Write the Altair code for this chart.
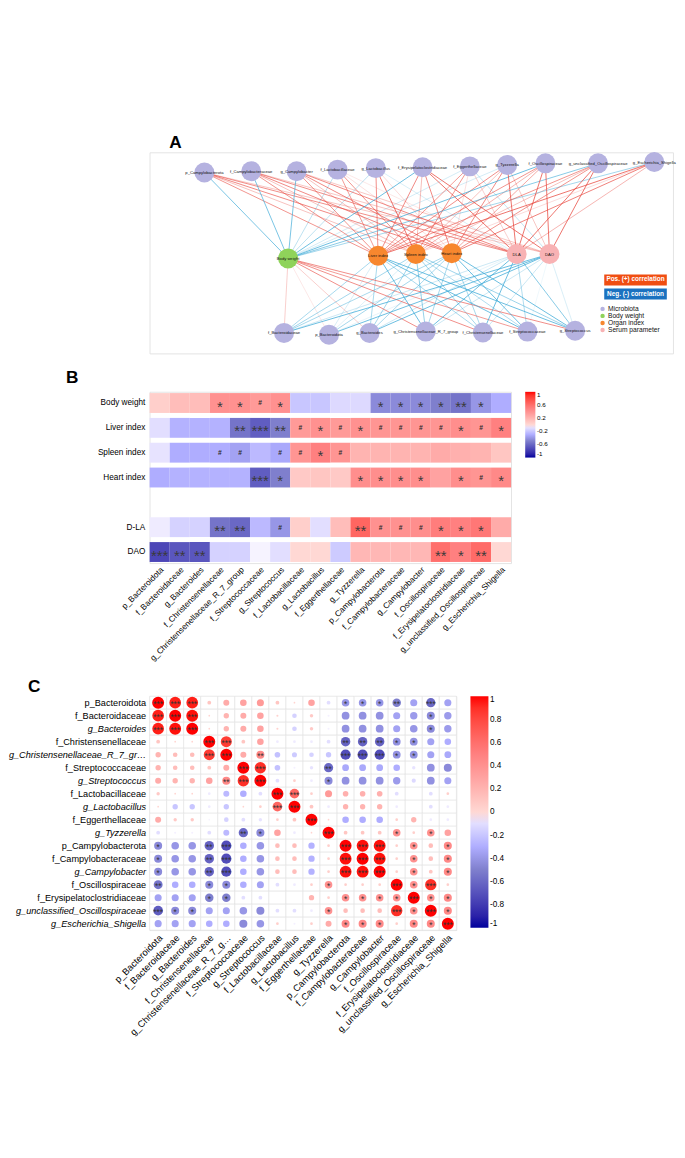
import altair as alt
import pandas as pd

# ---------------- shared data ----------------
taxa = ["p_Bacteroidota", "f_Bacteroidaceae", "g_Bacteroides", "f_Christensenellaceae",
        "g_Christensenellaceae_R_7_group", "f_Streptococcaceae", "g_Streptococcus",
        "f_Lactobacillaceae", "g_Lactobacillus", "f_Eggerthellaceae", "g_Tyzzerella",
        "p_Campylobacterota", "f_Campylobacteraceae", "g_Campylobacter", "f_Oscillospiraceae",
        "f_Erysipelatoclostridiaceae", "g_unclassified_Oscillospiraceae", "g_Escherichia_Shigella"]

params = ["Body weight", "Liver index", "Spleen index", "Heart index", "D-LA", "DAO"]
b_row_order = ["Body weight", "Liver index", "Spleen index", "Heart index", " ", "D-LA", "DAO"]

r_body   = [0.05, 0.15, 0.15, 0.40, 0.40, 0.35, 0.40, -0.20, -0.20, -0.12, -0.12, -0.45, -0.45, -0.45, -0.50, -0.55, -0.40, -0.30]
r_liver  = [-0.10, -0.28, -0.28, -0.28, -0.55, -0.65, -0.50, 0.35, 0.40, 0.35, 0.40, 0.38, 0.38, 0.38, 0.38, 0.42, 0.38, 0.50]
r_spleen = [-0.08, -0.30, -0.30, -0.30, -0.35, -0.25, -0.32, 0.38, 0.50, 0.38, 0.20, 0.20, 0.20, 0.20, 0.25, 0.22, 0.20, 0.10]
r_heart  = [-0.30, -0.28, -0.28, -0.28, -0.28, -0.65, -0.50, 0.08, 0.10, 0.08, 0.42, 0.42, 0.42, 0.42, 0.30, 0.42, 0.38, 0.45]
r_dla    = [-0.05, -0.15, -0.15, -0.55, -0.60, -0.25, -0.40, 0.05, -0.10, 0.15, 0.65, 0.40, 0.40, 0.42, 0.52, 0.50, 0.55, 0.25]
r_dao    = [-0.75, -0.68, -0.68, -0.15, -0.15, -0.02, -0.10, 0.00, 0.00, -0.18, 0.18, 0.18, 0.18, 0.18, 0.60, 0.50, 0.62, 0.00]

s_body   = ["", "", "", "*", "*", "#", "*", "", "", "", "", "*", "*", "*", "*", "**", "*", ""]
s_liver  = ["", "", "", "", "**", "***", "**", "#", "*", "#", "*", "#", "#", "#", "#", "*", "#", "*"]
s_spleen = ["", "", "", "#", "#", "", "#", "#", "*", "#", "", "", "", "", "", "", "", ""]
s_heart  = ["", "", "", "", "", "***", "*", "", "", "", "*", "*", "*", "*", "", "*", "#", "*"]
s_dla    = ["", "", "", "**", "**", "", "#", "", "", "", "**", "#", "#", "#", "*", "*", "*", ""]
s_dao    = ["***", "**", "**", "", "", "", "", "", "", "", "", "", "", "", "**", "*", "**", ""]

B_vals = [r_body, r_liver, r_spleen, r_heart, r_dla, r_dao]
B_sig = [s_body, s_liver, s_spleen, s_heart, s_dla, s_dao]

C_vals = [
    [1.00, 0.95, 0.95, 0.10, 0.25, 0.30, 0.35, 0.10, 0.02, 0.30, -0.10, -0.40, -0.40, -0.40, -0.50, -0.35, -0.60, -0.35],
    [0.95, 1.00, 0.98, 0.02, 0.20, 0.25, 0.30, 0.03, -0.15, 0.08, -0.03, -0.42, -0.42, -0.42, -0.35, -0.38, -0.45, -0.38],
    [0.95, 0.98, 1.00, 0.02, 0.20, 0.25, 0.30, 0.03, -0.15, 0.08, -0.03, -0.42, -0.42, -0.42, -0.35, -0.40, -0.45, -0.38],
    [0.10, 0.02, 0.02, 1.00, 0.85, 0.10, 0.30, -0.05, -0.05, -0.05, -0.10, -0.62, -0.62, -0.62, -0.42, -0.42, -0.35, -0.30],
    [0.20, 0.15, 0.15, 0.85, 1.00, 0.25, 0.45, -0.22, -0.18, -0.15, -0.20, -0.72, -0.72, -0.72, -0.42, -0.42, -0.35, -0.32],
    [0.20, 0.15, 0.15, 0.10, 0.25, 1.00, 0.90, -0.22, -0.03, -0.08, -0.60, -0.32, -0.32, -0.32, -0.30, -0.08, -0.42, -0.45],
    [0.25, 0.20, 0.20, 0.30, 0.45, 0.90, 1.00, -0.10, 0.05, -0.05, -0.45, -0.42, -0.42, -0.42, -0.38, -0.12, -0.42, -0.35],
    [0.08, 0.02, 0.02, -0.05, -0.25, -0.30, -0.10, 1.00, 0.65, 0.05, 0.35, 0.22, 0.22, 0.22, -0.10, 0.00, -0.10, 0.05],
    [0.02, -0.20, -0.20, -0.05, -0.20, 0.02, 0.05, 0.65, 1.00, 0.10, -0.05, 0.20, 0.20, 0.20, -0.05, 0.00, -0.10, -0.05],
    [0.25, 0.08, 0.08, -0.02, -0.15, -0.10, -0.08, 0.05, 0.10, 1.00, 0.02, -0.30, -0.30, -0.30, 0.05, 0.20, -0.05, -0.05],
    [-0.10, -0.03, -0.03, -0.10, -0.25, -0.60, -0.45, 0.30, -0.05, 0.02, 1.00, 0.10, 0.10, 0.10, 0.40, 0.05, 0.40, 0.30],
    [-0.45, -0.40, -0.40, -0.62, -0.72, -0.30, -0.40, 0.15, 0.15, -0.28, 0.05, 1.00, 0.98, 0.98, 0.05, 0.40, 0.15, 0.45],
    [-0.45, -0.40, -0.40, -0.62, -0.72, -0.30, -0.40, 0.15, 0.15, -0.28, 0.05, 0.98, 1.00, 0.98, 0.05, 0.40, 0.15, 0.45],
    [-0.45, -0.40, -0.40, -0.62, -0.72, -0.30, -0.40, 0.15, 0.15, -0.28, 0.05, 0.98, 0.98, 1.00, 0.05, 0.40, 0.10, 0.45],
    [-0.55, -0.30, -0.30, -0.45, -0.45, -0.30, -0.35, -0.10, -0.05, 0.05, 0.40, 0.05, 0.05, 0.05, 1.00, 0.40, 0.90, 0.05],
    [-0.35, -0.35, -0.35, -0.50, -0.50, -0.10, -0.10, 0.00, 0.00, 0.20, 0.05, 0.40, 0.40, 0.40, 0.40, 1.00, 0.40, 0.45],
    [-0.65, -0.45, -0.45, -0.35, -0.35, -0.40, -0.45, -0.10, -0.10, -0.05, 0.40, 0.15, 0.15, 0.15, 0.90, 0.40, 1.00, 0.45],
    [-0.35, -0.35, -0.35, -0.30, -0.30, -0.45, -0.40, 0.05, -0.03, 0.05, 0.25, 0.45, 0.45, 0.45, 0.05, 0.45, 0.45, 1.00],
]
C_sig = [
    ["***", "***", "***", "", "", "", "", "", "", "", "", "*", "*", "*", "**", "", "***", ""],
    ["***", "***", "***", "", "", "", "", "", "", "", "", "", "", "", "", "", "*", ""],
    ["***", "***", "***", "", "", "", "", "", "", "", "", "", "", "", "", "", "*", ""],
    ["", "", "", "***", "***", "", "", "", "", "", "", "**", "**", "**", "*", "*", "", ""],
    ["", "", "", "***", "***", "", "**", "", "", "", "", "***", "***", "***", "*", "*", "", ""],
    ["", "", "", "", "", "***", "***", "", "", "", "**", "", "", "", "", "", "", ""],
    ["", "", "", "", "**", "***", "***", "", "", "", "*", "", "", "", "", "", "", ""],
    ["", "", "", "", "", "", "", "***", "***", "", "", "", "", "", "", "", "", ""],
    ["", "", "", "", "", "", "", "***", "***", "", "", "", "", "", "", "", "", ""],
    ["", "", "", "", "", "", "", "", "", "***", "", "", "", "", "", "", "", ""],
    ["", "", "", "", "", "**", "*", "", "", "", "***", "", "", "", "*", "", "*", ""],
    ["*", "", "", "**", "***", "", "", "", "", "", "", "***", "***", "***", "", "*", "", "*"],
    ["*", "", "", "**", "***", "", "", "", "", "", "", "***", "***", "***", "", "*", "", "*"],
    ["*", "", "", "**", "***", "", "", "", "", "", "", "***", "***", "***", "", "*", "", "*"],
    ["**", "", "", "*", "*", "", "", "", "", "", "*", "", "", "", "***", "*", "***", ""],
    ["", "", "", "*", "*", "", "", "", "", "", "", "*", "*", "*", "*", "***", "*", "*"],
    ["***", "*", "*", "", "", "", "", "", "", "", "*", "", "", "", "***", "*", "***", "*"],
    ["", "", "", "", "", "", "", "", "", "", "", "*", "*", "*", "", "*", "*", "***"],
]

# ---------------- panel A: network ----------------
top_nodes = ["p_Campylobacterota", "f_Campylobacteraceae", "g_Campylobacter", "f_Lactobacillaceae",
             "g_Lactobacillus", "f_Erysipelatoclostridiaceae", "f_Eggerthellaceae", "g_Tyzzerella",
             "f_Oscillospiraceae", "g_unclassified_Oscillospiraceae", "g_Escherichia_Shigella"]
bottom_nodes = ["f_Bacteroidaceae", "p_Bacteroidota", "g_Bacteroides", "g_Christensenellaceae_R_7_group",
                "f_Christensenellaceae", "f_Streptococcaceae", "g_Streptococcus"]
mid_labels = ["Body weight", "Liver index", "Spleen index", "Heart index", "DLA", "DAO"]
mid_groups = ["Body weight", "Organ index", "Organ index", "Organ index", "Serum parameter", "Serum parameter"]
node_groups = ["Microbiota", "Body weight", "Organ index", "Serum parameter"]
node_colors = ["#b5b2e0", "#8fd35a", "#f7872e", "#f8b2b4"]
legend_box_labels = ["Pos. (+) correlation", "Neg. (-) correlation"]
legend_box_colors = ["#f04e12", "#1b72c0"]

# network layout (slot = horizontal layout unit, level = tier)
top_slot = [0.0, 1.04, 2.05, 2.96, 3.81, 4.85, 5.90, 6.73, 7.58, 8.75, 10.0]
top_level = [0.06, 0.045, 0.045, 0.027, 0.01, 0.0, -0.01, -0.027, -0.045, -0.045, -0.06]
mid_slot = [1.86, 3.86, 4.70, 5.50, 6.94, 7.67]
mid_level = [1.04, 1.01, 0.99, 0.98, 0.99, 0.99]
bot_slot = [1.77, 2.77, 3.67, 4.92, 6.19, 7.18, 8.24]
bot_level = [1.89, 1.91, 1.89, 1.875, 1.885, 1.875, 1.865]
box_slot = [8.887, 10.278]
box_level = [[1.223, 1.348], [1.384, 1.509]]
key_slot = [8.85, 8.97]
key_level = [1.616, 1.696, 1.777, 1.857]

pos = {}
for n, s, l in zip(top_nodes, top_slot, top_level):
    pos[n] = (s, l)
for n, s, l in zip(bottom_nodes, bot_slot, bot_level):
    pos[n] = (s, l)

edge_rows = []
for i in range(len(params)):
    for j, t in enumerate(taxa):
        r = B_vals[i][j]
        if r == 0:
            continue
        tx, ty = pos[t]
        edge_rows.append(dict(ex=mid_slot[i], ey=mid_level[i], ex2=tx, ey2=ty, r=r, absr=abs(r),
                              sign="pos" if r > 0 else "neg"))
edges = pd.DataFrame(edge_rows).sort_values("absr")

node_rows = []
for n, s, l in zip(top_nodes, top_slot, top_level):
    node_rows.append(dict(name=n, nx=s, ny=l, group="Microbiota"))
for n, s, l, g in zip(mid_labels, mid_slot, mid_level, mid_groups):
    node_rows.append(dict(name=n, nx=s, ny=l, group=g))
for n, s, l in zip(bottom_nodes, bot_slot, bot_level):
    node_rows.append(dict(name=n, nx=s, ny=l, group="Microbiota"))
nodes = pd.DataFrame(node_rows)

key_df = pd.DataFrame(dict(group=node_groups, kx=[key_slot[0]] * 4, tx=[key_slot[1]] * 4, ky=key_level))

xs = alt.Scale(domain=[-1.2174, 10.4174], nice=False, zero=False)
ys = alt.Scale(domain=[-0.1696, 2.125], nice=False, zero=False, reverse=True)
group_scale = alt.Scale(domain=node_groups, range=node_colors)

edge_layer = alt.Chart(edges).mark_rule(strokeWidth=1).encode(
    x=alt.X("ex:Q", scale=xs, axis=None),
    y=alt.Y("ey:Q", scale=ys, axis=None),
    x2="ex2:Q", y2="ey2:Q",
    stroke=alt.Stroke("sign:N", scale=alt.Scale(domain=["pos", "neg"], range=["#e8453c", "#3aa8d6"]), legend=None),
    opacity=alt.Opacity("absr:Q", scale=alt.Scale(domain=[0, 0.5], range=[0.07, 0.95], clamp=True), legend=None),
)
node_layer = alt.Chart(nodes).mark_circle(size=650, opacity=1).encode(
    x=alt.X("nx:Q", scale=xs, axis=None),
    y=alt.Y("ny:Q", scale=ys, axis=None),
    fill=alt.Fill("group:N", scale=group_scale, legend=None),
)
label_layer = alt.Chart(nodes).mark_text(fontSize=5.3, font="Liberation Sans", color="#111").encode(
    x=alt.X("nx:Q", scale=xs, axis=None),
    y=alt.Y("ny:Q", scale=ys, axis=None),
    text="name:N",
)
key_dots = alt.Chart(key_df).mark_circle(size=32, opacity=1).encode(
    x=alt.X("kx:Q", scale=xs, axis=None),
    y=alt.Y("ky:Q", scale=ys, axis=None),
    fill=alt.Fill("group:N", scale=group_scale, legend=None),
)
key_text = alt.Chart(key_df).mark_text(fontSize=8.5, font="Liberation Sans", color="#111", align="left").encode(
    x=alt.X("tx:Q", scale=xs, axis=None),
    y=alt.Y("ky:Q", scale=ys, axis=None),
    text="group:N",
)
box_layers = []
for k in range(2):
    bdf = pd.DataFrame([dict(label=legend_box_labels[k], bx=box_slot[0], bx2=box_slot[1],
                             by=box_level[k][0], by2=box_level[k][1],
                             xm=(box_slot[0] + box_slot[1]) / 2,
                             ym=(box_level[k][0] + box_level[k][1]) / 2)])
    box_layers.append(alt.Chart(bdf).mark_rect(color=legend_box_colors[k]).encode(
        x=alt.X("bx:Q", scale=xs, axis=None), x2="bx2:Q",
        y=alt.Y("by:Q", scale=ys, axis=None), y2="by2:Q"))
    box_layers.append(alt.Chart(bdf).mark_text(color="white", fontSize=8.2, fontWeight="bold",
                                               font="Liberation Sans").encode(
        x=alt.X("xm:Q", scale=xs, axis=None),
        y=alt.Y("ym:Q", scale=ys, axis=None),
        text="label:N"))

panel_a = alt.layer(edge_layer, node_layer, label_layer, key_dots, key_text, *box_layers).properties(
    width=669, height=257,
    title=alt.TitleParams("A", anchor="start", fontSize=22, fontWeight="bold", dx=25, offset=0,
                          font="Liberation Sans", color="black"),
)

# ---------------- panel B: heatmap ----------------
cscale = alt.Scale(domain=[-1, -0.5, 0, 0.5, 1],
                   range=["#00009c", "#7f7fcd", "#ffffff", "#ff8080", "#ff0000"])
legend_vals = [1, 0.8, 0.6, 0.4, 0.2, 0, -0.2, -0.4, -0.6, -0.8, -1]

b_cells, b_stars, b_hashes = [], [], []
for i, p in enumerate(params):
    for j, t in enumerate(taxa):
        rec = dict(param=p, taxon=t, r=B_vals[i][j], sig=B_sig[i][j])
        b_cells.append(rec)
        if "*" in B_sig[i][j]:
            b_stars.append(rec)
        elif B_sig[i][j] == "#":
            b_hashes.append(rec)
dfB = pd.DataFrame(b_cells)
dfBs = pd.DataFrame(b_stars)
dfBh = pd.DataFrame(b_hashes)

bx = alt.X("taxon:N", sort=taxa, scale=alt.Scale(domain=taxa, paddingInner=0, paddingOuter=0),
           axis=alt.Axis(title=None, ticks=False, domain=False, labelAngle=315, labelFontSize=10.5,
                         labelFont="Liberation Sans", labelColor="black", labelPadding=3))
by = alt.Y("param:N", sort=b_row_order, scale=alt.Scale(domain=b_row_order, paddingInner=0.2, paddingOuter=0.05),
           axis=alt.Axis(title=None, ticks=False, domain=False, labelFontSize=10.5,
                         labelFont="Liberation Sans", labelColor="black", labelPadding=6, minExtent=131))

b_rect = alt.Chart(dfB).mark_rect().encode(
    x=bx, y=by,
    color=alt.Color("r:Q", scale=cscale,
                    legend=alt.Legend(title=None, orient="right", values=legend_vals,
                                      labelExpr="toString(round(datum.value*10)/10)", labelFontSize=8,
                                      gradientLength=84, gradientThickness=13)),
)
b_star = alt.Chart(dfBs).mark_text(fontSize=19, font="Liberation Sans", color="#3a3a3a", dy=5).encode(
    x=bx, y=by, text="sig:N")
b_hash = alt.Chart(dfBh).mark_text(fontSize=8.5, fontWeight="bold", font="Liberation Sans",
                                   color="#2a2a2a").encode(x=bx, y=by, text="sig:N")

panel_b = alt.layer(b_rect, b_star, b_hash).properties(
    width=462, height=219,
    title=alt.TitleParams("B", anchor="start", fontSize=22, fontWeight="bold", dx=24, offset=6,
                          font="Liberation Sans", color="black"),
)

# ---------------- panel C: correlogram ----------------
c_cells, c_marks = [], []
for i, rt in enumerate(taxa):
    for j, ct in enumerate(taxa):
        rec = dict(row=rt, col=ct, r=C_vals[i][j], absr=abs(C_vals[i][j]), sig=C_sig[i][j])
        c_cells.append(rec)
        if C_sig[i][j] != "":
            c_marks.append(rec)
dfC = pd.DataFrame(c_cells)
dfCs = pd.DataFrame(c_marks)

italic_test = {"condition": {"test": "slice(datum.value, 0, 2) == 'g_'", "value": "italic"}, "value": "normal"}

cx = alt.X("col:N", sort=taxa, scale=alt.Scale(domain=taxa, paddingInner=0, paddingOuter=0),
           axis=alt.Axis(title=None, ticks=False, domain=False,
                         labelAngle=315, labelFontSize=12, labelFont="Liberation Sans", labelColor="black",
                         labelPadding=4))
cy = alt.Y("row:N", sort=taxa, scale=alt.Scale(domain=taxa, paddingInner=0, paddingOuter=0),
           axis=alt.Axis(title=None, ticks=False, domain=False,
                         labelFontSize=11.7, labelFont="Liberation Sans", labelColor="black", labelPadding=5,
                         labelFontStyle=italic_test))

c_grid = alt.Chart(dfC).mark_rect(fill="white", stroke="#e2e2e2", strokeWidth=0.8).encode(x=cx, y=cy)
c_circles = alt.Chart(dfC).mark_circle(opacity=1).encode(
    x=cx, y=cy,
    size=alt.Size("absr:Q", scale=alt.Scale(domain=[0, 1], range=[0, 235]), legend=None),
    color=alt.Color("r:Q", scale=cscale,
                    legend=alt.Legend(title=None, orient="right", values=legend_vals,
                                      labelExpr="toString(round(datum.value*10)/10)", labelFontSize=10.5,
                                      gradientLength=296, gradientThickness=23)),
)
c_text = alt.Chart(dfCs).mark_text(fontSize=10.5, font="Liberation Sans", color="#333", dy=2.8).encode(
    x=cx, y=cy, text="sig:N")

panel_c = alt.layer(c_grid, c_circles, c_text).properties(
    width=392, height=299,
    title=alt.TitleParams("C", anchor="start", fontSize=22, fontWeight="bold", dx=25, offset=0,
                          font="Liberation Sans", color="black"),
)

chart = alt.vconcat(panel_a, panel_b, panel_c, spacing=18).resolve_scale(
    color="independent"
).properties(padding=0, background="white")

chart.save("out.html", embed_options={"renderer": "svg", "actions": False})
